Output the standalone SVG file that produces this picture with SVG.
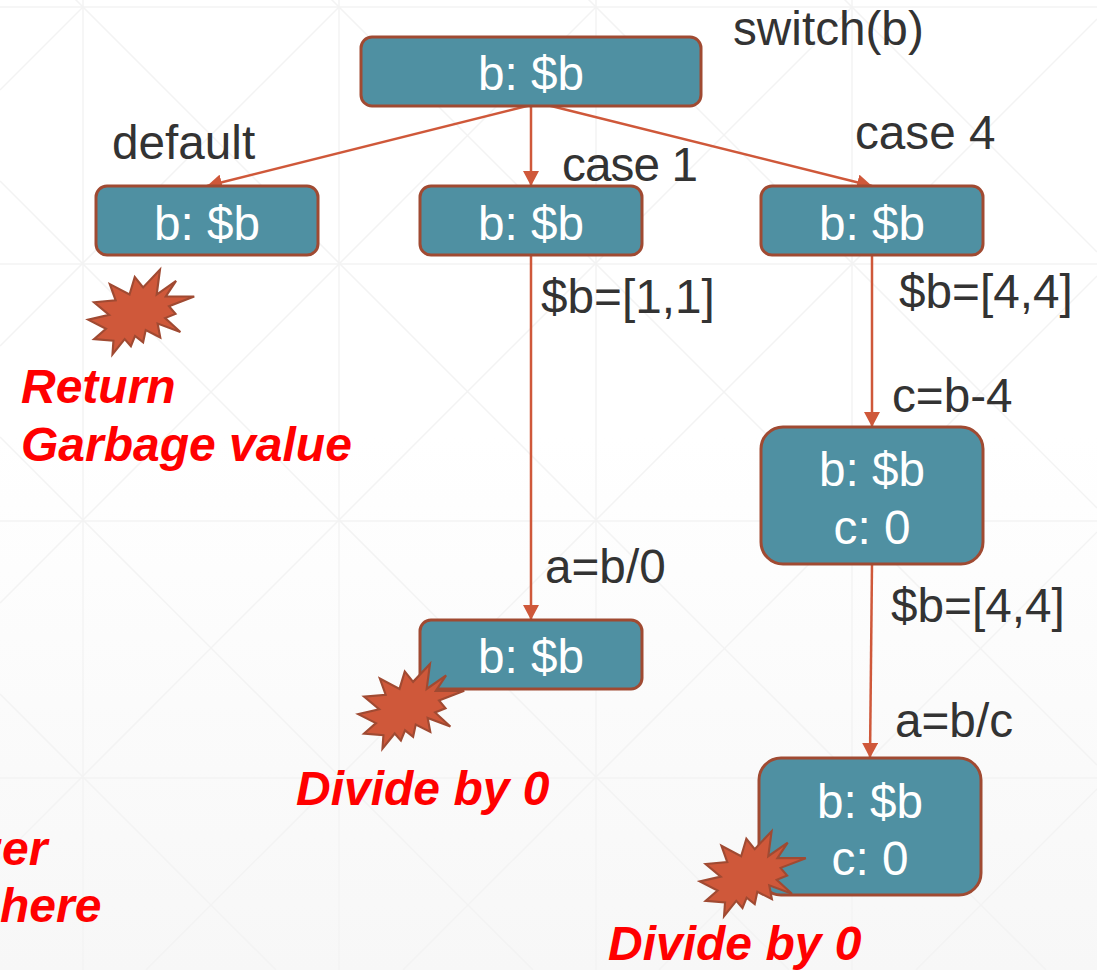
<svg xmlns="http://www.w3.org/2000/svg" width="1097" height="970" viewBox="0 0 1097 970">
<style>
.n{fill:#4f90a2;stroke:#a04a32;stroke-width:3}
.w{fill:#fff;font:47.7px "Liberation Sans",Arial,sans-serif;text-anchor:middle}
.l{fill:#333;font:47.7px "Liberation Sans",Arial,sans-serif}
.r{fill:#f00;font:italic bold 48px "Liberation Sans",Arial,sans-serif}
.c{stroke:#cf583a;stroke-width:2.5;fill:none;marker-end:url(#a)}
.g{stroke:#f3f3f3;stroke-width:1.5;fill:none}
.b{fill:#cf583a;stroke:#a04a32;stroke-width:2.2}
</style>
<defs>
<linearGradient id="bg" x1="0" y1="0" x2="0" y2="1"><stop offset=".45" stop-color="#fff"/><stop offset="1" stop-color="#f7f7f7"/></linearGradient>
<marker id="a" markerUnits="userSpaceOnUse" markerWidth="16" markerHeight="16" refX="15" refY="8" orient="auto"><path d="M0 0L15 8L0 16z" fill="#cf583a"/></marker>
<polygon id="burst" transform="translate(137 311) scale(.97) translate(-137 -311)" points="160.7,268.3 157.3,294 177.3,280 166.7,296 196,296 170,306 176.7,314 166,318.3 181.7,332.7 158.3,324 161,338.3 146,330.7 143.3,343.3 135,336.7 130.7,347.3 124.3,340 111.7,355.7 112.7,341.7 92.7,340 105,329.3 86.7,320 108.3,315 92.7,302 115,300 109,283.3 129.3,294 134.7,276 143.3,286.7"/>
</defs>
<rect width="1097" height="970" fill="url(#bg)"/>
<g id="grid" class="g">
<path d="M83 0V970M339 0V970M596 0V970M852 0V970M0 7H1097M0 264H1097M0 521H1097M0 778H1097"/>
<path d="M0 -76L1046 970M256 -76L1097 765M513 -76L1097 508M769 -76L1097 252M0 181L789 970M0 437L533 970M0 694L276 970M83 7L0 90M339 7L0 346M596 7L0 603M852 7L0 859M1097 19L146 970M1097 276L403 970M1097 532L659 970M1097 789L916 970"/>
</g>
<g id="connectors">
<path class="c" d="M531 105L207 186"/>
<path class="c" d="M531 105V186"/>
<path class="c" d="M531 101L872 186"/>
<path class="c" d="M531 256V620"/>
<path class="c" d="M872 256V427"/>
<path class="c" d="M872 564L870 758"/>
</g>
<g id="n1"><rect class="n" x="361" y="37" width="340" height="69" rx="11"/><text class="w" x="531" y="90">b: $b</text></g>
<g id="n2"><rect class="n" x="96" y="186" width="222" height="69" rx="11"/><text class="w" x="207" y="240">b: $b</text></g>
<g id="n3"><rect class="n" x="420" y="186" width="222" height="69" rx="11"/><text class="w" x="531" y="240">b: $b</text></g>
<g id="n4"><rect class="n" x="761" y="186" width="222" height="69" rx="11"/><text class="w" x="872" y="240">b: $b</text></g>
<g id="n5"><rect class="n" x="761" y="427" width="222" height="137" rx="22"/><text class="w" x="872" y="486">b: $b</text><text class="w" x="872" y="544">c: 0</text></g>
<g id="n6"><rect class="n" x="420" y="620" width="222" height="69" rx="11"/><text class="w" x="531" y="673">b: $b</text></g>
<g id="n7"><rect class="n" x="759" y="758" width="222" height="137" rx="22"/><text class="w" x="870" y="818">b: $b</text><text class="w" x="870" y="875">c: 0</text></g>
<g id="labels">
<text class="l" x="733" y="45">switch(b)</text>
<text class="l" x="112" y="159">default</text>
<text class="l" x="562" y="181" textLength="136">case 1</text>
<text class="l" x="855" y="149">case 4</text>
<text class="l" x="541" y="313">$b=[1,1]</text>
<text class="l" x="899" y="308">$b=[4,4]</text>
<text class="l" x="892" y="412">c=b-4</text>
<text class="l" x="545" y="583">a=b/0</text>
<text class="l" x="891" y="622">$b=[4,4]</text>
<text class="l" x="895" y="737">a=b/c</text>
<text class="r" x="21" y="403">Return</text>
<text class="r" x="21" y="461">Garbage value</text>
<text class="r" x="296" y="805">Divide by 0</text>
<text class="r" x="608" y="960">Divide by 0</text>
<text class="r" x="-22" y="865">zer</text>
<text class="r" x="0" y="922">here</text>
</g>
<g id="bursts">
<use href="#burst" class="b"/>
<use href="#burst" class="b" x="270" y="394.4"/>
<use href="#burst" class="b" x="611.6" y="561.7"/>
</g>
</svg>
